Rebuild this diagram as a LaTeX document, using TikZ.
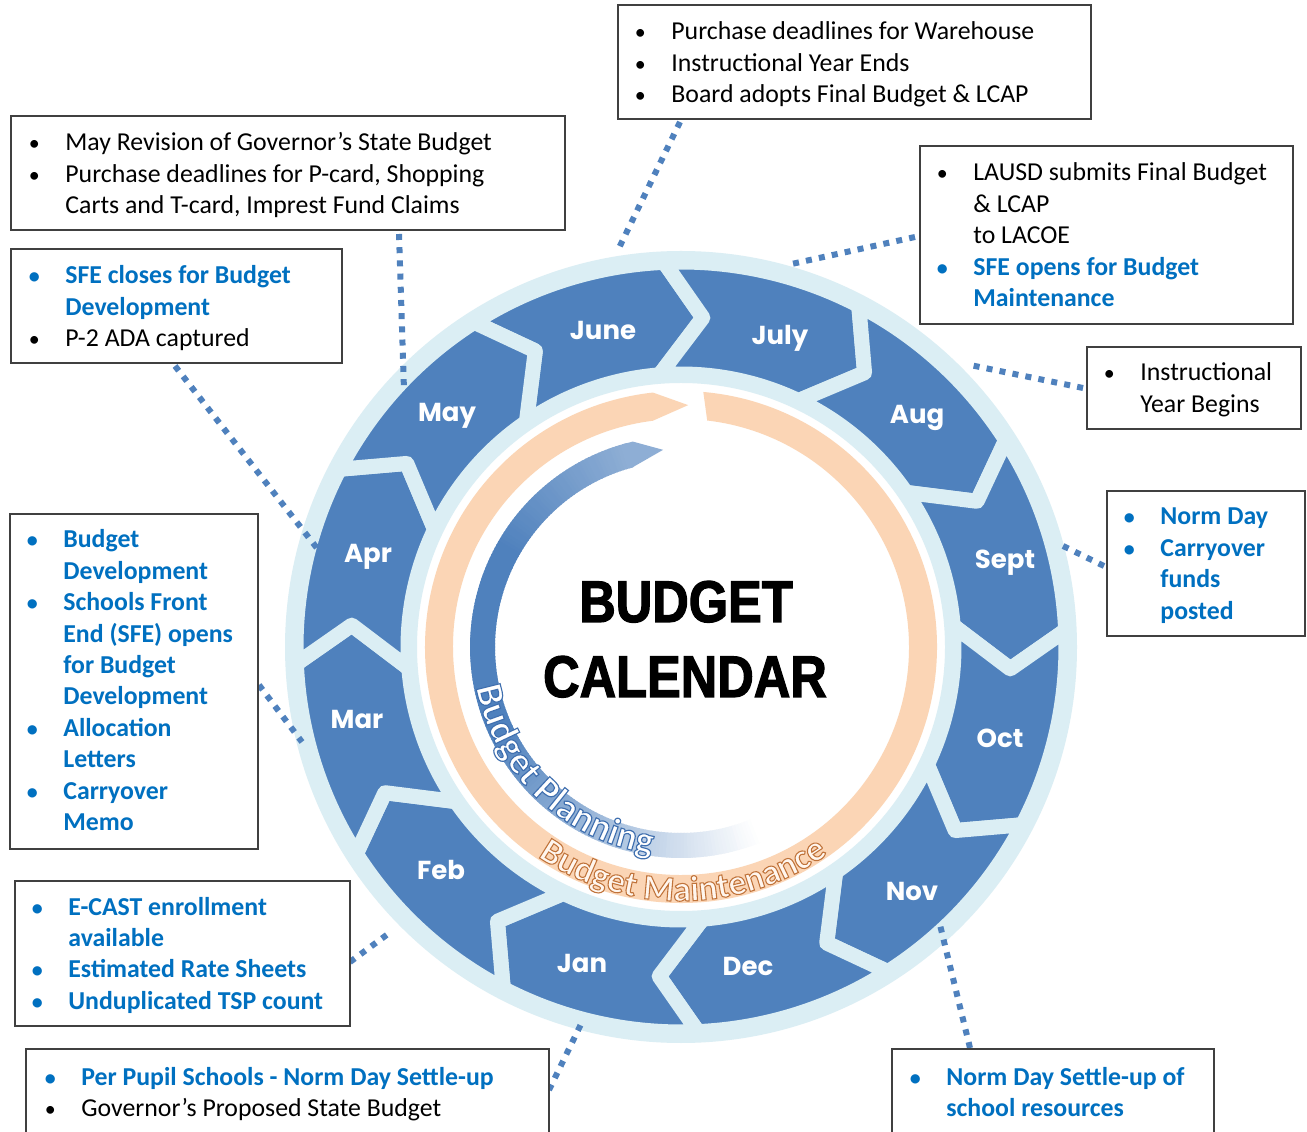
\documentclass[tikz,border=0pt]{standalone}
\usepackage{fontspec}
\setmainfont{Carlito}
\newfontfamily\monthfont{Poppins}
\newfontfamily\titlefont{Liberation Sans}[FakeStretch=0.86, FakeBold=2]
\newfontfamily\arcoutfont{Carlito Bold}[FakeBold=3]
\usetikzlibrary{decorations.text}
\definecolor{cblue}{HTML}{4F81BD}
\definecolor{ringblue}{HTML}{DBEEF4}
\definecolor{peach}{HTML}{FBD5B5}
\definecolor{tblue}{HTML}{0070C0}
\definecolor{bordergray}{HTML}{404040}
\definecolor{mfill}{HTML}{FFF6EE}
\newcommand\bl{\llap{\makebox[10pt][c]{\scalebox{0.85}{\textbullet}}\hspace{10.5pt}}}
\newcommand\hl{\color{tblue}\bfseries}
\newcommand\planstroke{\special{pdf:literal direct 0.247 0.435 0.686 RG}}
\newcommand\maintstroke{\special{pdf:literal direct 0.753 0.451 0.227 RG}}
\newcommand\tbox[5]{\node[box, minimum width={(#4-#2)*0.5pt}, minimum height={(#5-#3)*0.5pt}] (#1) at (#2,{1131-#5}) {};}
\newcommand\tlist[4]{\node[txt] (#1) at (#2,{1131-#3}) {\begin{tabular}[t]{@{}l@{}}#4\end{tabular}};}
\begin{document}
\begin{tikzpicture}[x=0.5pt,y=0.5pt,
  box/.style={draw=bordergray, line width=0.8pt, fill=white, inner sep=0pt, anchor=south west},
  txt/.style={inner sep=0pt, anchor=base west, font=\fontsize{12.9}{15.7}\selectfont, text=black},
  month/.style={text=white, font=\monthfont\bfseries\fontsize{13}{15}\selectfont, inner sep=0pt},
  title/.style={font=\titlefont\bfseries\fontsize{29.4}{32}\selectfont, inner sep=0pt, anchor=base},
  conn/.style={draw=cblue, line width=3pt, dash pattern=on 3pt off 3.6pt},
  chev/.style={fill=cblue, draw=ringblue, line width=7.5pt, line join=round}
]
\useasboundingbox (0,0) rectangle (1307,1131);
\fill[white] (0,0) rectangle (1307,1131);

\begin{scope}[shift={(681,484)}]
  % light blue ring
  \fill[ringblue, even odd rule] (0,0) circle[radius=396] (0,0) circle[radius=264];
  % chevrons
  \foreach \b in {90,60,...,-240}{
    \pgfmathsetmacro\s{\b+30}
    \path[chev] (\s+2.5:385) arc[start angle=\s+2.5, end angle=\b+2.5, radius=385]
      -- (\b-3.8:330) -- (\b+4.5:273)
      arc[start angle=\b+4.5, end angle=\s+4.5, radius=273]
      -- (\s-3.8:330) -- cycle;
  }
  % peach maintenance ring
  \fill[peach] (85:256) arc[start angle=85, end angle=-263.7, radius=256]
    -- (-271.7:242) -- (-262.9:228)
    arc[start angle=-262.9, end angle=83.4, radius=228] -- cycle;
  % blue planning arc with fading
  \fill[cblue!64!white] (106:211) -- (103.2:211) -- (95.2:198) -- (105.2:186) -- (106:186) -- cycle;
  \foreach \a in {105,...,292}{
    \pgfmathtruncatemacro\p{(\a<150) ? (64+36*(\a-105)/45) : ((\a<205) ? 100 : max(0,100-100*(\a-205)/87))}
    \fill[cblue!\p!white] (\a-0.2:211) arc[start angle=\a-0.2, end angle=\a+1.2, radius=211]
      -- (\a+1.2:186) arc[start angle=\a+1.2, end angle=\a-0.2, radius=186] -- cycle;
  }
  % curved labels (white fill, coloured outline)
  \path[decorate, decoration={text along path, text align=center,
    text={|\arcoutfont\fontsize{19}{20}\selectfont\color{white}\planstroke|Budget Planning}}]
    (180:209) arc[start angle=180, end angle=273, radius=209];
  \path[decorate, decoration={text along path, text align=center,
    text={|\arcoutfont\fontsize{17.8}{20}\selectfont\color{mfill}\maintstroke|Budget Maintenance}}]
    (222:254) arc[start angle=222, end angle=319, radius=254];
\end{scope}

% month labels
\node[month] (mJun) at (603,801) {June};
\node[month] (mJul) at (780,793) {July};
\node[month] (mAug) at (917,713) {Aug};
\node[month] (mSep) at (1005,568) {Sept};
\node[month] (mOct) at (1000,393) {Oct};
\node[month] (mNov) at (912,240) {Nov};
\node[month] (mDec) at (748,165) {Dec};
\node[month] (mJan) at (582,168) {Jan};
\node[month] (mFeb) at (441,261) {Feb};
\node[month] (mMar) at (357,412) {Mar};
\node[month] (mApr) at (368,574) {Apr};
\node[month] (mMay) at (447,715) {May};

% title
\node[title] (tB) at (686,509) {BUDGET};
\node[title] (tC) at (685,434) {CALENDAR};

% connectors
\coordinate (c1a) at (680,1009); \coordinate (c1b) at (618,881);
\coordinate (c2a) at (399,897);  \coordinate (c2b) at (404,741);
\coordinate (c3a) at (175,765);  \coordinate (c3b) at (320,579);
\coordinate (c4a) at (915,894);  \coordinate (c4b) at (787,866);
\coordinate (c5a) at (1083,743); \coordinate (c5b) at (970,766);
\coordinate (c6a) at (1104,565); \coordinate (c6b) at (1057,588);
\coordinate (c7a) at (259,446);  \coordinate (c7b) at (302,389);
\coordinate (c8a) at (350,169);  \coordinate (c8b) at (392,200);
\coordinate (c9a) at (549,41);   \coordinate (c9b) at (583,111);
\coordinate (c10a) at (970,83);  \coordinate (c10b) at (940,206);
\foreach \i in {1,...,10}{\draw[conn] (c\i a) -- (c\i b);}

% boxes
\tbox{b1}{617}{6}{1090}{120}
\tbox{b2}{10}{117}{564}{231}
\tbox{b3}{10}{250}{341}{364}
\tbox{b4}{919}{147}{1292}{325}
\tbox{b5}{1086}{348}{1300}{430}
\tbox{b6}{1106}{492}{1304}{637}
\tbox{b7}{9}{515}{257}{850}
\tbox{b8}{14}{882}{349}{1027}
\tbox{b9}{25}{1050}{548}{1145}
\tbox{b10}{891}{1050}{1213}{1145}

\tlist{t1}{671}{40}{\bl Purchase deadlines for Warehouse\\ \bl Instructional Year Ends\\ \bl Board adopts Final Budget \& LCAP}
\tlist{t2}{65}{151}{\bl May Revision of Governor’s State Budget\\ \bl Purchase deadlines for P-card, Shopping\\ Carts and T-card, Imprest Fund Claims}
\tlist{t3}{65}{284}{\hl\bl SFE closes for Budget\\ \hl Development\\ \bl P-2 ADA captured}
\tlist{t4}{973}{181}{\bl LAUSD submits Final Budget\\ \& LCAP\\ to LACOE\\ \hl\bl SFE opens for Budget\\ \hl Maintenance}
\tlist{t5}{1140}{381}{\bl Instructional\\ Year Begins}
\tlist{t6}{1160}{525}{\hl\bl Norm Day\\ \hl\bl Carryover\\ \hl funds\\ \hl posted}
\tlist{t7}{63}{548}{\hl\bl Budget\\ \hl Development\\ \hl\bl Schools Front\\ \hl End (SFE) opens\\ \hl for Budget\\ \hl Development\\ \hl\bl Allocation\\ \hl Letters\\ \hl\bl Carryover\\ \hl Memo}
\tlist{t8}{68}{915}{\hl\bl E-CAST enrollment\\ \hl available\\ \hl\bl Estimated Rate Sheets\\ \hl\bl Unduplicated TSP count}
\tlist{t9}{81}{1085}{\hl\bl Per Pupil Schools - Norm Day Settle-up\\ \bl Governor’s Proposed State Budget}
\tlist{t10}{946}{1085}{\hl\bl Norm Day Settle-up of\\ \hl school resources}
\end{tikzpicture}
\end{document}
